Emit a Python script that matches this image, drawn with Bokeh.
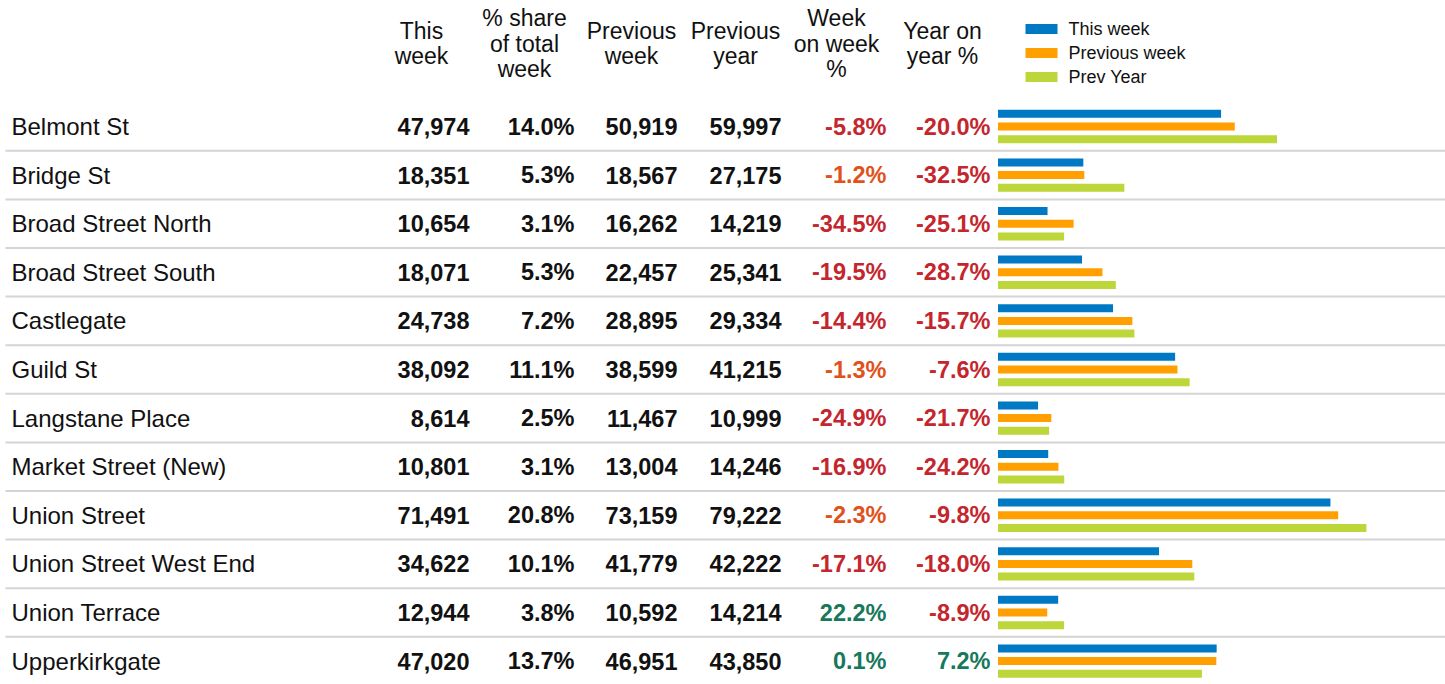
from bokeh.plotting import figure
from bokeh.models import Range1d, ColumnDataSource
from bokeh.core.properties import value
from bokeh.embed import file_html
from bokeh.resources import INLINE

# ---------------- data ----------------
locations = ["Belmont St", "Bridge St", "Broad Street North", "Broad Street South",
             "Castlegate", "Guild St", "Langstane Place", "Market Street (New)",
             "Union Street", "Union Street West End", "Union Terrace", "Upperkirkgate"]
this_week = [47974, 18351, 10654, 18071, 24738, 38092, 8614, 10801, 71491, 34622, 12944, 47020]
share_pct = [14.0, 5.3, 3.1, 5.3, 7.2, 11.1, 2.5, 3.1, 20.8, 10.1, 3.8, 13.7]
previous_week = [50919, 18567, 16262, 22457, 28895, 38599, 11467, 13004, 73159, 41779, 10592, 46951]
previous_year = [59997, 27175, 14219, 25341, 29334, 41215, 10999, 14246, 79222, 42222, 14214, 43850]
week_on_week = [-5.8, -1.2, -34.5, -19.5, -14.4, -1.3, -24.9, -16.9, -2.3, -17.1, 22.2, 0.1]
year_on_year = [-20.0, -32.5, -25.1, -28.7, -15.7, -7.6, -21.7, -24.2, -9.8, -18.0, -8.9, 7.2]

headers = [["This", "week"], ["% share", "of total", "week"], ["Previous", "week"],
           ["Previous", "year"], ["Week", "on week", "%"], ["Year on", "year %"]]
legend_labels = ["This week", "Previous week", "Prev Year"]

# ---------------- layout ----------------
W, H = 1445, 684
FONT = value("Liberation Sans")
BLUE, ORANGE, GREEN = "#0079c4", "#ffa000", "#bdd63a"
ROW0, ROWH = 126.0, 48.6
n = len(locations)
rows = [ROW0 + i * ROWH for i in range(n)]

p = figure(width=W, height=H, output_backend="svg", toolbar_location=None,
           x_range=Range1d(0, W), y_range=Range1d(H, 0), min_border=0,
           background_fill_color="white", border_fill_color="white")
p.axis.visible = False
p.grid.visible = False
p.outline_line_color = None

# bar scale: px per unit
k = 0.00465
bar_x0 = 997.5
p.extra_x_ranges = {"bars": Range1d(-bar_x0 / k, (W - bar_x0) / k)}

# separators
sep_y = [r + ROWH / 2 for r in rows[:-1]]
p.segment(x0=[5] * len(sep_y), x1=[W] * len(sep_y), y0=sep_y, y1=sep_y,
          line_color="#d4d4d4", line_width=2)

# headers
hdr_x = [421, 524, 631, 735, 836, 942]
for hx, lines in zip(hdr_x, headers):
    if len(lines) == 3:
        ys = [17.5, 43, 68.5]
    else:
        ys = [30, 55.5]
    p.text(x=[hx] * len(lines), y=ys, text=lines, text_align="center",
           text_baseline="middle", text_font=FONT, text_font_size="23px",
           text_color="#111111")

# row labels
p.text(x=[11] * n, y=rows, text=locations, text_align="left", text_baseline="middle",
       text_font=FONT, text_font_size="24px", text_color="#111111")

def col(xr, texts, colors):
    p.text(x=[xr] * n, y=rows, text=texts, text_align="right", text_baseline="middle",
           text_font=FONT, text_font_size="23.5px", text_font_style="bold",
           text_color=colors)

def pct_color(v):
    if v >= 0:
        return "#17785c"
    if v > -5:
        return "#e0521a"
    return "#c4262e"

black = ["#111111"] * n
col(469, [f"{v:,}" for v in this_week], black)
col(574, [f"{v:.1f}%" for v in share_pct], black)
col(677, [f"{v:,}" for v in previous_week], black)
col(781, [f"{v:,}" for v in previous_year], black)
col(886, [f"{v:.1f}%" for v in week_on_week], [pct_color(v) for v in week_on_week])
col(990, [f"{v:.1f}%" for v in year_on_year], [pct_color(v) for v in year_on_year])

# bars
for off, vals, c in [(-12.7, this_week, BLUE), (0, previous_week, ORANGE), (12.7, previous_year, GREEN)]:
    src = ColumnDataSource(dict(y=[r + off for r in rows], right=vals, left=[0] * n))
    p.hbar(y="y", left="left", right="right", height=8, source=src,
           fill_color=c, line_color=None, x_range_name="bars")

# legend
leg_y = [28.5, 52.5, 76.5]
p.rect(x=[1041] * 3, y=leg_y, width=32, height=10,
       fill_color=[BLUE, ORANGE, GREEN], line_color=None)
p.text(x=[1068] * 3, y=leg_y, text=legend_labels, text_align="left",
       text_baseline="middle", text_font=FONT, text_font_size="18px", text_color="#111111")

open("out.html", "w").write(file_html(p, INLINE))
